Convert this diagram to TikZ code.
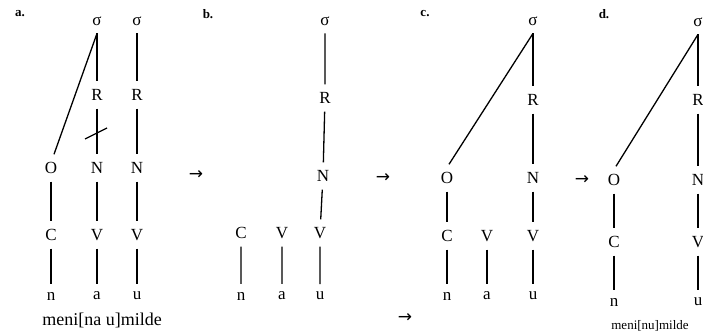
\documentclass[tikz,border=0pt]{standalone}
\usepackage{fontspec}
\setmainfont{Liberation Serif}
\newfontfamily\arrowfont{DejaVu Sans}
\begin{document}
\begin{tikzpicture}[x=1pt,y=-1pt,
  seg/.style={font=\fontsize{17}{17}\selectfont, inner sep=2pt, outer sep=6pt},
  lab/.style={font=\bfseries\fontsize{13}{13}\selectfont, inner sep=0pt},
  arr/.style={font=\arrowfont\fontsize{17}{17}\selectfont, inner sep=0pt},
  form/.style={font=\fontsize{18}{18}\selectfont, inner sep=0pt},
  link/.style={line width=1.3pt}]
\useasboundingbox (0,0) rectangle (703,334);
% panel a
\node[lab] (la) at (20,14) {a.};
\node[seg] (as1) at (97,21) {σ};
\node[seg] (as2) at (137,21) {σ};
\node[seg] (ar1) at (97,95) {R};
\node[seg] (ar2) at (137,95) {R};
\node[seg] (ao) at (51,168) {O};
\node[seg] (an1) at (97,168) {N};
\node[seg] (an2) at (137,168) {N};
\node[seg] (ac) at (51,235) {C};
\node[seg] (av1) at (97,235) {V};
\node[seg] (av2) at (137,235) {V};
\node[seg] (ax1) at (51,296) {n};
\node[seg] (ax2) at (97,296) {a};
\node[seg] (ax3) at (137,296) {u};
\node[form] (afm) at (102,320) {meni[na u]milde};
\draw[link] (as1) -- (ar1) (as2) -- (ar2) (ar1) -- (an1) (ar2) -- (an2)
  (ao) -- (ac) (ac) -- (ax1) (an1) -- (av1) (av1) -- (ax2) (an2) -- (av2) (av2) -- (ax3);
\draw[link] (as1.south) -- ([xshift=3pt]ao.north);
\coordinate (xa) at (85,139);
\coordinate (xb) at (107,128);
\draw[link] (xa) -- (xb);
% panel b
\node[lab] (lb) at (208,14) {b.};
\node[arr] (arb) at (196,175) {→};
\node[seg] (bs) at (325,21) {σ};
\node[seg] (br) at (325,98) {R};
\node[seg] (bn) at (323,176) {N};
\node[seg] (bv3) at (320,233) {V};
\node[seg] (bc) at (241,233) {C};
\node[seg] (bv2) at (282,233) {V};
\node[seg] (bx1) at (241,296) {n};
\node[seg] (bx2) at (282,296) {a};
\node[seg] (bx3) at (320,296) {u};
\draw[link] (bs) -- (br) (br) -- (bn) (bn) -- (bv3) (bv3) -- (bx3)
  (bc) -- (bx1) (bv2) -- (bx2);
% panel c
\node[lab] (lc) at (425,14) {c.};
\node[arr] (arc) at (383,178) {→};
\node[arr] (arc2) at (405,318) {→};
\node[seg] (cs) at (533,21) {σ};
\node[seg] (cr) at (533,100) {R};
\node[seg] (co) at (447,178) {O};
\node[seg] (cn) at (533,178) {N};
\node[seg] (cc) at (447,236) {C};
\node[seg] (cv2) at (487,236) {V};
\node[seg] (cv3) at (533,236) {V};
\node[seg] (cx1) at (447,296) {n};
\node[seg] (cx2) at (487,296) {a};
\node[seg] (cx3) at (533,296) {u};
\draw[link] (cs) -- (cr) (cr) -- (cn) (cn) -- (cv3) (cv3) -- (cx3)
  (co) -- (cc) (cc) -- (cx1) (cv2) -- (cx2);
\draw[link] (cs.south) -- ([xshift=2pt]co.north);
% panel d
\node[lab] (ld) at (604,14) {d.};
\node[arr] (ard) at (582,180) {→};
\node[seg] (ds) at (698,22) {σ};
\node[seg] (dr) at (698,100) {R};
\node[seg] (do) at (614,180) {O};
\node[seg] (dn) at (698,180) {N};
\node[seg] (dc) at (614,242) {C};
\node[seg] (dv) at (698,242) {V};
\node[seg] (dx1) at (614,302) {n};
\node[seg] (dx2) at (698,302) {u};
\node[form, font=\fontsize{13}{13}\selectfont] (dfm) at (650,326) {meni[nu]milde};
\draw[link] (ds) -- (dr) (dr) -- (dn) (dn) -- (dv) (dv) -- (dx2)
  (do) -- (dc) (dc) -- (dx1);
\draw[link] (ds.south) -- ([xshift=2pt]do.north);
\end{tikzpicture}
\end{document}
